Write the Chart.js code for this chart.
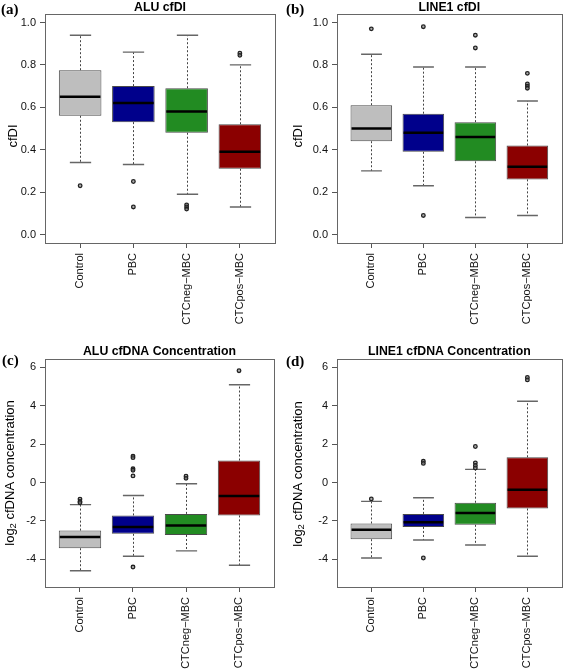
<!DOCTYPE html>
<html>
<head>
<meta charset="utf-8">
<script src="https://cdn.jsdelivr.net/npm/chart.js@4.4.1/dist/chart.umd.min.js"></script>
<style>
html, body { margin: 0; padding: 0; background: #fff; }
#wrap { position: relative; width: 567px; height: 669px; overflow: hidden; background: #fff; }
#wrap canvas { position: absolute; }
</style>
</head>
<body>
<div id="wrap">
  <canvas id="panelA" width="283" height="330" style="left:0;top:0"></canvas>
  <canvas id="panelB" width="284" height="330" style="left:283px;top:0"></canvas>
  <canvas id="panelC" width="283" height="339" style="left:0;top:330px"></canvas>
  <canvas id="panelD" width="284" height="339" style="left:283px;top:330px"></canvas>
</div>
<script>
// groups on the x axis (box positions 1..4 like R's boxplot)
const groups = ['Control', 'PBC', 'CTCneg−MBC', 'CTCpos−MBC'];
const groupPos = [1, 2, 3, 4];
const boxColors = ['#bebebe', '#00008b', '#228b22', '#8b0000'];

const cfdiTicks = [0, 0.2, 0.4, 0.6, 0.8, 1.0];
const concTicks = [-4, -2, 0, 2, 4, 6];

// (a) ALU cfDI
const aluCfdiLower  = [0.34, 0.33, 0.19, 0.13];
const aluCfdiQ1     = [0.56, 0.53, 0.48, 0.31];
const aluCfdiMedian = [0.65, 0.62, 0.58, 0.39];
const aluCfdiQ3     = [0.775, 0.70, 0.69, 0.52];
const aluCfdiUpper  = [0.94, 0.86, 0.94, 0.80];
const aluCfdiOut    = [[0.23], [0.25, 0.13], [0.14, 0.13, 0.12], [0.855, 0.845]];

// (b) LINE1 cfDI
const lineCfdiLower  = [0.30, 0.23, 0.08, 0.09];
const lineCfdiQ1     = [0.44, 0.39, 0.345, 0.26];
const lineCfdiMedian = [0.50, 0.48, 0.46, 0.32];
const lineCfdiQ3     = [0.61, 0.57, 0.53, 0.42];
const lineCfdiUpper  = [0.85, 0.79, 0.79, 0.63];
const lineCfdiOut    = [[0.97], [0.98, 0.09], [0.94, 0.88], [0.76, 0.71, 0.70, 0.69]];

// (c) ALU cfDNA concentration (log2)
const aluConcLower  = [-4.59, -3.84, -3.56, -4.31];
const aluConcQ1     = [-3.42, -2.67, -2.73, -1.71];
const aluConcMedian = [-2.83, -2.32, -2.24, -0.70];
const aluConcQ3     = [-2.50, -1.71, -1.63, 1.15];
const aluConcUpper  = [-1.15, -0.67, -0.06, 5.10];
const aluConcOut    = [[-0.86, -0.98, -1.05], [1.38, 1.30, 0.72, 0.64, 0.35, -4.40], [0.33, 0.22], [5.83]];

// (d) LINE1 cfDNA concentration (log2)
const lineConcLower  = [-3.93, -2.99, -3.25, -3.84];
const lineConcQ1     = [-2.95, -2.31, -2.20, -1.35];
const lineConcMedian = [-2.46, -2.06, -1.59, -0.37];
const lineConcQ3     = [-2.13, -1.63, -1.05, 1.32];
const lineConcUpper  = [-0.98, -0.79, 0.69, 4.24];
const lineConcOut    = [[-0.85], [1.11, 1.00, -3.93], [1.88, 1.03, 0.89, 0.76], [5.48, 5.35]];

const FONT = "'Liberation Sans', Arial, sans-serif";

// whiskers, caps, medians, frame and the panel texts
const boxPlotLines = {
  id: 'boxPlotLines',
  beforeDatasetsDraw(chart, args, o) {
    const { ctx } = chart;
    const xs = chart.scales.x, ys = chart.scales.y;
    const capHalf = Math.abs(xs.getPixelForValue(1.2) - xs.getPixelForValue(1));
    ctx.save();
    groupPos.forEach((p, i) => {
      const px = Math.round(xs.getPixelForValue(p)) + 0.5;
      const yHi = ys.getPixelForValue(o.upper[i]);
      const yLo = ys.getPixelForValue(o.lower[i]);
      ctx.strokeStyle = '#444';
      ctx.lineWidth = 1;
      ctx.setLineDash([2, 2]);
      ctx.beginPath();
      ctx.moveTo(px, ys.getPixelForValue(o.q3[i])); ctx.lineTo(px, yHi);
      ctx.moveTo(px, ys.getPixelForValue(o.q1[i])); ctx.lineTo(px, yLo);
      ctx.stroke();
      ctx.setLineDash([]);
      ctx.strokeStyle = '#666';
      ctx.lineWidth = 1.4;
      ctx.beginPath();
      ctx.moveTo(px - capHalf, yHi); ctx.lineTo(px + capHalf, yHi);
      ctx.moveTo(px - capHalf, yLo); ctx.lineTo(px + capHalf, yLo);
      ctx.stroke();
    });
    ctx.restore();
  },
  afterDatasetsDraw(chart, args, o) {
    const { ctx } = chart;
    const xs = chart.scales.x, ys = chart.scales.y;
    const half = Math.abs(xs.getPixelForValue(1.4) - xs.getPixelForValue(1));
    ctx.save();
    ctx.strokeStyle = '#000';
    ctx.lineWidth = 2.5;
    groupPos.forEach((p, i) => {
      const px = xs.getPixelForValue(p);
      const py = ys.getPixelForValue(o.median[i]);
      ctx.beginPath();
      ctx.moveTo(px - half + 1, py); ctx.lineTo(px + half - 1, py);
      ctx.stroke();
    });
    ctx.restore();
  },
  afterDraw(chart, args, o) {
    const { ctx, chartArea: a } = chart;
    ctx.save();
    ctx.strokeStyle = '#666';
    ctx.lineWidth = 1;
    ctx.strokeRect(Math.round(a.left) + 0.5, Math.round(a.top) + 0.5,
      Math.round(a.right - a.left), Math.round(a.bottom - a.top));

    // panel letter
    ctx.fillStyle = '#000';
    ctx.font = "bold 15px 'Liberation Serif', 'Times New Roman', serif";
    ctx.textAlign = 'left';
    ctx.textBaseline = 'alphabetic';
    ctx.fillText(o.letter, o.letterX, o.letterY);

    // title
    ctx.font = 'bold 12.3px ' + FONT;
    ctx.textAlign = 'center';
    ctx.fillText(o.title, (a.left + a.right) / 2, o.titleY);

    // y axis title (optional subscript)
    ctx.translate(o.yTitleX, o.yTitleY);
    ctx.rotate(-Math.PI / 2);
    ctx.textBaseline = 'middle';
    ctx.textAlign = 'left';
    const big = '13px ' + FONT, small = '9.5px ' + FONT;
    ctx.font = big;
    const w1 = ctx.measureText(o.yTitle[0]).width;
    const w3 = ctx.measureText(o.yTitle[2] || '').width;
    ctx.font = small;
    const w2 = o.yTitle[1] ? ctx.measureText(o.yTitle[1]).width : 0;
    let x0 = -(w1 + w2 + w3) / 2;
    ctx.font = big;
    ctx.fillText(o.yTitle[0], x0, 0);
    if (o.yTitle[1]) {
      ctx.font = small;
      ctx.fillText(o.yTitle[1], x0 + w1, 3.5);
      ctx.font = big;
      ctx.fillText(o.yTitle[2], x0 + w1 + w2, 0);
    }
    ctx.restore();
  }
};

function makeBoxChart(id, s) {
  const canvas = document.getElementById(id);
  const W = canvas.width, H = canvas.height;
  const outPoints = [];
  s.out.forEach((list, i) => list.forEach(v => outPoints.push({ x: groupPos[i], y: v })));

  return new Chart(canvas.getContext('2d'), {
    type: 'bar',
    data: {
      datasets: [{
        data: groupPos.map((p, i) => ({ x: p, y: [s.q1[i], s.q3[i]] })),
        backgroundColor: boxColors,
        borderColor: '#4a4a4a',
        borderWidth: 1,
        borderSkipped: false,
        barPercentage: 0.8,
        categoryPercentage: 1.0
      }, {
        type: 'scatter',
        data: outPoints,
        pointRadius: 1.8,
        pointBorderWidth: 1.3,
        pointBorderColor: '#222',
        pointBackgroundColor: 'rgba(120,120,120,0.6)'
      }]
    },
    options: {
      responsive: false,
      animation: false,
      events: [],
      layout: { padding: { left: 0, top: s.area.top, right: W - s.area.right, bottom: 0 } },
      plugins: {
        legend: { display: false },
        tooltip: { enabled: false },
        boxPlotLines: {
          lower: s.lower, q1: s.q1, median: s.median, q3: s.q3, upper: s.upper,
          letter: s.letter, letterX: s.letterX, letterY: s.letterY,
          title: s.title, titleY: s.titleY,
          yTitle: s.yTitle, yTitleX: s.yTitleX, yTitleY: s.yTitleY
        }
      },
      scales: {
        x: {
          type: 'linear',
          min: 0.34, max: 4.66,
          offset: false,
          afterBuildTicks: sc => { sc.ticks = groupPos.map(v => ({ value: v })); },
          afterFit: sc => { sc.height = H - s.area.bottom; },
          grid: { drawOnChartArea: false, drawTicks: true, tickLength: 5, color: '#555', offset: false },
          border: { display: false },
          ticks: {
            minRotation: 90, maxRotation: 90, padding: 5, autoSkip: false,
            color: '#111', font: { family: FONT, size: 11 },
            callback: v => groups[groupPos.indexOf(v)]
          }
        },
        y: {
          type: 'linear',
          min: s.yMin, max: s.yMax,
          afterBuildTicks: sc => { sc.ticks = s.yTicks.map(v => ({ value: v })); },
          afterFit: sc => { sc.width = s.area.left; },
          grid: { drawOnChartArea: false, drawTicks: true, tickLength: 5, color: '#555' },
          border: { display: false },
          ticks: {
            padding: 4, color: '#111', font: { family: FONT, size: 11 },
            callback: v => s.fmt(v)
          }
        }
      }
    },
    plugins: [boxPlotLines]
  });
}

const fmt1 = v => v.toFixed(1);
const fmt0 = v => String(v);

makeBoxChart('panelA', {
  lower: aluCfdiLower, q1: aluCfdiQ1, median: aluCfdiMedian, q3: aluCfdiQ3, upper: aluCfdiUpper, out: aluCfdiOut,
  yMin: -0.04, yMax: 1.04, yTicks: cfdiTicks, fmt: fmt1,
  area: { left: 45, right: 275, top: 14, bottom: 243 },
  letter: '(a)', letterX: 1, letterY: 14,
  title: 'ALU cfDI', titleY: 11,
  yTitle: ['cfDI'], yTitleX: 13, yTitleY: 136
});

makeBoxChart('panelB', {
  lower: lineCfdiLower, q1: lineCfdiQ1, median: lineCfdiMedian, q3: lineCfdiQ3, upper: lineCfdiUpper, out: lineCfdiOut,
  yMin: -0.04, yMax: 1.04, yTicks: cfdiTicks, fmt: fmt1,
  area: { left: 54, right: 282, top: 14, bottom: 243 },
  letter: '(b)', letterX: 3, letterY: 14,
  title: 'LINE1 cfDI', titleY: 11,
  yTitle: ['cfDI'], yTitleX: 15, yTitleY: 136
});

makeBoxChart('panelC', {
  lower: aluConcLower, q1: aluConcQ1, median: aluConcMedian, q3: aluConcQ3, upper: aluConcUpper, out: aluConcOut,
  yMin: -5.44, yMax: 6.44, yTicks: concTicks, fmt: fmt0,
  area: { left: 45, right: 274, top: 29, bottom: 257 },
  letter: '(c)', letterX: 2, letterY: 35,
  title: 'ALU cfDNA Concentration', titleY: 25,
  yTitle: ['log', '2', ' cfDNA concentration'], yTitleX: 10, yTitleY: 143
});

makeBoxChart('panelD', {
  lower: lineConcLower, q1: lineConcQ1, median: lineConcMedian, q3: lineConcQ3, upper: lineConcUpper, out: lineConcOut,
  yMin: -5.44, yMax: 6.44, yTicks: concTicks, fmt: fmt0,
  area: { left: 54, right: 282, top: 29, bottom: 257 },
  letter: '(d)', letterX: 3, letterY: 36,
  title: 'LINE1 cfDNA Concentration', titleY: 25,
  yTitle: ['log', '2', ' cfDNA concentration'], yTitleX: 15, yTitleY: 144
});
</script>
</body>
</html>
